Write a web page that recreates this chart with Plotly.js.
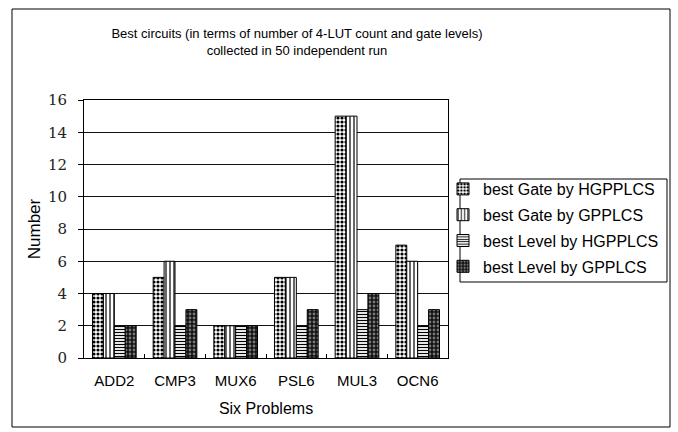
<!DOCTYPE html>
<html><head><meta charset="utf-8">
<script src="https://cdn.plot.ly/plotly-3.0.1.min.js"></script>
<style>html,body{margin:0;padding:0;background:#fff}#c{width:678px;height:432px}</style>
</head><body><div id="c"></div>
<script>
const categories = ['ADD2','CMP3','MUX6','PSL6','MUL3','OCN6'];
const seriesNames = ['best Gate by HGPPLCS','best Gate by GPPLCS','best Level by HGPPLCS','best Level by GPPLCS'];
const gateHGPPLCS = [4,5,2,5,15,7];
const gateGPPLCS = [4,6,2,5,15,6];
const levelHGPPLCS = [2,2,2,2,3,2];
const levelGPPLCS = [2,3,2,3,4,3];
const yTicks = [0,2,4,6,8,10,12,14,16];

const patterns = [
  {shape:'.', fgcolor:'#000', bgcolor:'#fff', size:4, solidity:0.5},
  {shape:'|', fgcolor:'#000', bgcolor:'#fff', size:4, solidity:0.3},
  {shape:'-', fgcolor:'#000', bgcolor:'#fff', size:3, solidity:0.4},
  {shape:'.', fgcolor:'#777', bgcolor:'#111', size:4, solidity:0.4}
];
const values = [gateHGPPLCS, gateGPPLCS, levelHGPPLCS, levelGPPLCS];
const data = values.map((v,i)=>({
  type:'bar', x:categories, y:v, name:seriesNames[i], legendgroup:'g'+i,
  marker:{color:'#fff', pattern:patterns[i], line:{color:'#000', width:1}}
}));

const L=84, R=448, T=100, B=358;
const px = x => (x-L)/(R-L);
const py = y => (B-y)/(B-T);

const layout = {
  width:678, height:432,
  margin:{l:L, r:678-R, t:T, b:432-B},
  paper_bgcolor:'#fff', plot_bgcolor:'#fff',
  font:{family:'Liberation Sans', size:14, color:'#000'},
  barmode:'group', bargap:0.28, bargroupgap:0,
  title:{text:'Best circuits (in terms of number of 4-LUT count and gate levels)<br>collected in 50 independent run',
    font:{size:13}, xref:'paper', x:px(297), xanchor:'center', yref:'container', y:1-38/432, yanchor:'top'},
  xaxis:{showline:true, linecolor:'#000', linewidth:1, mirror:true,
    ticks:'inside', tickson:'boundaries', ticklen:4, tickcolor:'#000',
    tickfont:{size:15}, ticklabelstandoff:9,
    title:{text:'Six Problems', font:{size:16}, standoff:14}},
  yaxis:{range:[0,16], tickvals:yTicks, showline:true, linecolor:'#000', linewidth:1, mirror:true,
    ticks:'outside', ticklen:5, tickcolor:'#000',
    gridcolor:'#111', gridwidth:1, zeroline:false,
    tickfont:{family:'DejaVu Serif', size:15, color:'#222'},
    ticklabelstandoff:8,
    title:{text:'Number', font:{size:17}, standoff:2}},
  showlegend:true,
  legend:{x:px(443), y:py(172), xanchor:'left', yanchor:'top', bgcolor:'rgba(0,0,0,0)',
    borderwidth:0, font:{size:16}, traceorder:'grouped', tracegroupgap:2,
    itemwidth:30},
  shapes:[
    {type:'rect', xref:'paper', yref:'paper', x0:px(12), x1:px(670), y0:py(427), y1:py(9),
      line:{color:'#000', width:1}, fillcolor:'rgba(0,0,0,0)', layer:'below'},
    {type:'rect', xref:'paper', yref:'paper', x0:px(460), x1:px(667), y0:py(282), y1:py(179),
      line:{color:'#000', width:1}, fillcolor:'#fff', layer:'below'}
  ]
};
Plotly.newPlot('c', data, layout, {displayModeBar:false, staticPlot:true});
</script></body></html>
